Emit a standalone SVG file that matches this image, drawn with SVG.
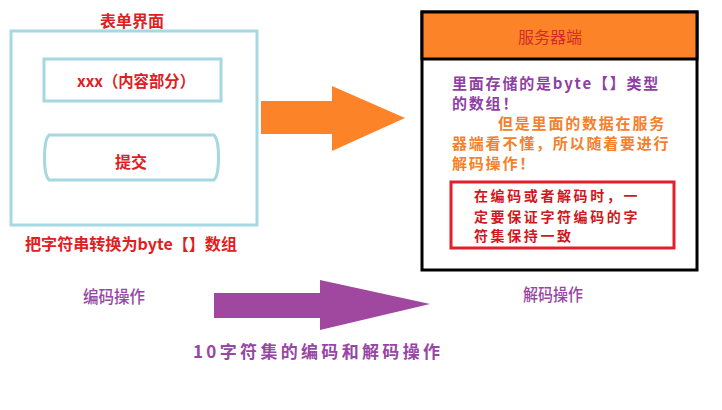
<svg xmlns="http://www.w3.org/2000/svg" width="722" height="410" viewBox="0 0 722 410">
  <style>
    .cjk { font-family: "Noto Sans CJK SC", "Noto Sans", sans-serif; }
    .red { fill: #e0201f; font-weight: bold; font-size: 16px; }
    .blue { fill: none; stroke: #a6d8e2; stroke-width: 3; }
    .purple { fill: #8e40a2; font-weight: bold; font-size: 15px; letter-spacing: 1.8px; }
    .orange { fill: #f5802a; font-weight: bold; font-size: 15px; letter-spacing: 1.8px; }
    .dred { fill: #d01820; font-weight: bold; font-size: 14px; letter-spacing: 2.6px; }
    .ptext { fill: #9646a4; font-size: 17px; font-weight: 500; }
  </style>
  <rect width="722" height="410" fill="#ffffff"/>

  <g id="form-page" class="cjk">
    <text class="red" x="132" y="27" text-anchor="middle">表单界面</text>
    <rect class="blue" x="11" y="31" width="246" height="194"/>
  </g>
  <g id="content-part" class="cjk">
    <rect class="blue" x="44" y="59" width="177" height="42"/>
    <text class="red" x="77" y="87" textLength="118" lengthAdjust="spacingAndGlyphs">xxx（内容部分）</text>
  </g>
  <g id="submit" class="cjk">
    <path class="blue" d="M49 135 H214 C220 141 220 174 214 180 H49 C43 174 43 141 49 135 Z"/>
    <text class="red" x="131" y="168" text-anchor="middle">提交</text>
  </g>
  <g id="form-caption" class="cjk">
    <text class="red" x="25" y="250" textLength="212" lengthAdjust="spacingAndGlyphs">把字符串转换为byte【】数组</text>
  </g>

  <g id="server" class="cjk">
    <rect x="422" y="12" width="275" height="258" fill="#ffffff" stroke="#000000" stroke-width="3"/>
    <rect x="422" y="12" width="275" height="47" fill="#fd8328" stroke="#000000" stroke-width="3"/>
    <text x="550" y="43" text-anchor="middle" font-size="16" fill="#d42a2a">服务器端</text>
    <text class="purple" x="452" y="89">里面存储的是byte【】类型</text>
    <text class="purple" x="452" y="109">的数组！</text>
    <text class="orange" x="498" y="129">但是里面的数据在服务</text>
    <text class="orange" x="452" y="149">器端看不懂，所以随着要进行</text>
    <text class="orange" x="452" y="169">解码操作！</text>
  </g>
  <g id="note" class="cjk">
    <rect x="451" y="182" width="223" height="66" fill="none" stroke="#e0202a" stroke-width="3"/>
    <text class="dred" x="474" y="201">在编码或者解码时，一</text>
    <text class="dred" x="474" y="222">定要保证字符编码的字</text>
    <text class="dred" x="474" y="241">符集保持一致</text>
  </g>

  <g id="encode-label" class="cjk">
    <text class="ptext" x="83" y="303" textLength="62" lengthAdjust="spacingAndGlyphs">编码操作</text>
  </g>
  <g id="decode-label" class="cjk">
    <text class="ptext" x="523" y="301" textLength="60" lengthAdjust="spacingAndGlyphs">解码操作</text>
  </g>
  <g id="caption" class="cjk">
    <text x="193" y="358" font-size="17" font-weight="bold" fill="#9646a4" textLength="247" lengthAdjust="spacing">10字符集的编码和解码操作</text>
  </g>

  <g id="connectors">
    <polygon points="261,101 332,101 332,86 405,118 332,151 332,134 261,134" fill="#fd8328"/>
    <polygon points="214,293 320,293 320,280 430,304 320,330 320,318 214,318" fill="#a047a0"/>
  </g>
</svg>
